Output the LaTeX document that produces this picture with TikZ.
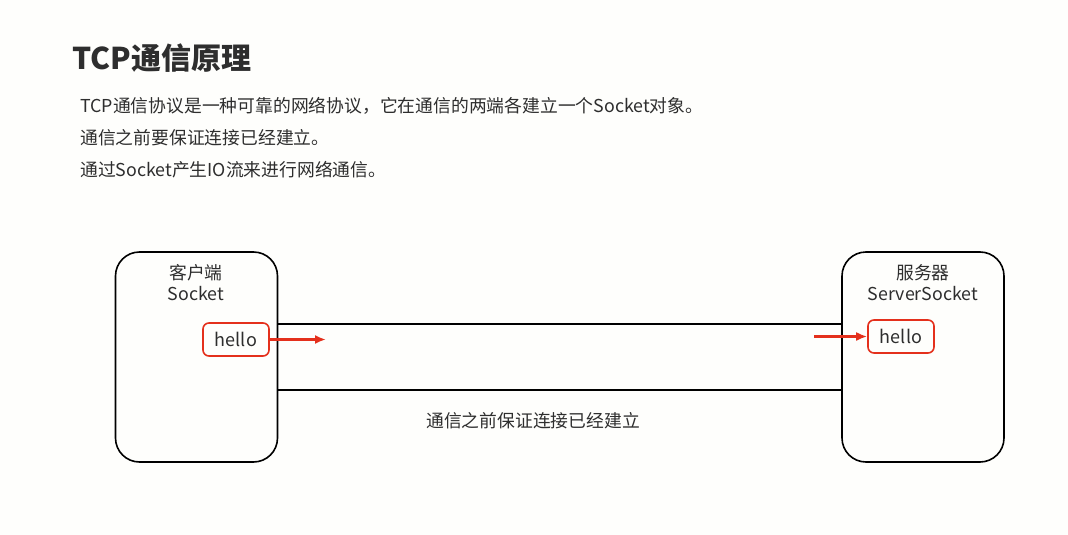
\documentclass[tikz,border=0pt]{standalone}
\usepackage{fontspec}
\setmainfont{Noto Sans CJK SC}
\usepackage{xcolor}
\usepackage{tikz}
\usetikzlibrary{arrows}
\usetikzlibrary{arrows.meta}

\definecolor{txtgray}{HTML}{2E2E2E}
\definecolor{msgred}{HTML}{E4301C}
\definecolor{paper}{HTML}{FEFEFC}

\tikzset{
  endbox/.style={draw, line width=1.6pt, rounded corners=24pt, minimum width=162pt, minimum height=210pt, inner sep=0pt},
  msgbox/.style={draw=msgred, line width=1.6pt, rounded corners=6pt, minimum width=66pt, minimum height=33pt, inner sep=0pt, text=txtgray, font=\fontsize{18}{21}\selectfont},
  msgarrow/.style={draw=msgred, line width=2.6pt, -{Latex[length=11pt,width=9pt]}},
  lbl/.style={inner sep=0pt, text=txtgray, font=\fontsize{17.8}{21}\selectfont},
}

\begin{document}
\begin{tikzpicture}[x=1pt,y=-1pt]
    \useasboundingbox (0,0) rectangle (1068,535);
    \fill[paper] (0,0) rectangle (1068,535);
    % title and notes
    \node[anchor=west, inner sep=0pt, text=txtgray, font=\fontsize{30}{35}\selectfont\bfseries] (title) at (72,58) {TCP通信原理};
    \node[lbl, anchor=west] (note1) at (80,106) {TCP通信协议是一种可靠的网络协议，它在通信的两端各建立一个Socket对象。};
    \node[lbl, anchor=west] (note2) at (80,138) {通信之前要保证连接已经建立。};
    \node[lbl, anchor=west] (note3) at (80,170) {通过Socket产生IO流来进行网络通信。};
    % the two ends
    \node[endbox] (client) at (196.5,357) {};
    \node[endbox] (server) at (923,357) {};
    \node[lbl] (cname) at (196,273) {客户端};
    \node[lbl] (csock) at (196,294) {Socket};
    \node[lbl] (sname) at (923,273) {服务器};
    \node[lbl] (ssock) at (923,294) {ServerSocket};
    % connection
    \coordinate (chtop) at (0,324);
    \coordinate (chbot) at (0,390);
    \draw[line width=1.6pt] (client.east |- chtop) to (server.west |- chtop);
    \draw[line width=1.6pt] (client.east |- chbot) to (server.west |- chbot);
    \node[lbl] (chlabel) at (533,421) {通信之前保证连接已经建立};
    % messages
    \node[msgbox] (chello) at (236,339.5) {hello};
    \node[msgbox] (shello) at (901,336.5) {hello};
    \coordinate (ctip) at (326,339.5);
    \coordinate (stail) at (814,336.5);
    \draw[msgarrow] (chello.east) to (ctip);
    \draw[msgarrow] (stail) to (shello.west);
  \end{tikzpicture}
\end{document}
